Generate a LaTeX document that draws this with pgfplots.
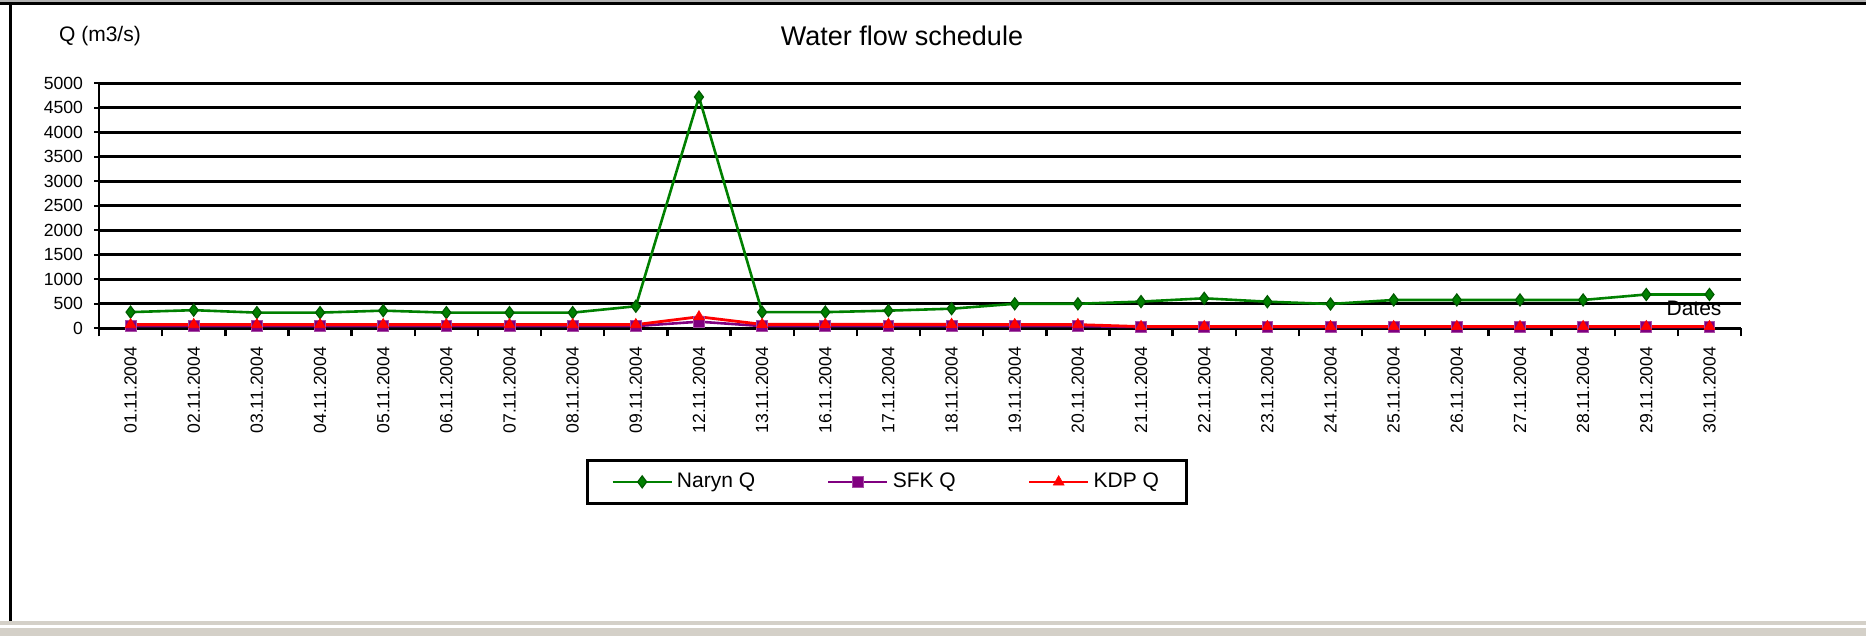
\documentclass[border=0pt]{standalone}
\usepackage{pgfplots}
\pgfplotsset{compat=1.18}
\usepackage{fontspec}
\setmainfont{Liberation Sans}
\definecolor{naryn}{RGB}{0,128,0}
\definecolor{sfk}{RGB}{128,0,128}
\definecolor{kdp}{RGB}{255,0,0}
\definecolor{wingray}{RGB}{212,208,200}
\pgfplotstableread{
x   naryn  sfk  kdp
0.5   330   45   75
1.5   370   45   75
2.5   320   45   75
3.5   320   45   75
4.5   360   45   75
5.5   320   45   75
6.5   320   45   75
7.5   320   45   75
8.5   450   45   75
9.5   4720  135  235
10.5  330   45   80
11.5  330   45   80
12.5  360   45   80
13.5  400   45   80
14.5  500   45   75
15.5  500   45   75
16.5  545   25   35
17.5  612   25   35
18.5  543   25   35
19.5  496   25   35
20.5  578   25   35
21.5  578   25   35
22.5  578   25   35
23.5  578   25   35
24.5  690   25   35
25.5  690   25   35
}\flowdata
\begin{document}
\begin{tikzpicture}
\path[use as bounding box] (0,0) rectangle (933pt,318pt);
% window frame
\fill[gray!60] (0,317pt) rectangle (933pt,318pt);
\fill[black] (0,315.5pt) rectangle (933pt,317pt);
\fill[black] (4.5pt,7.5pt) rectangle (6.2pt,317pt);
\fill[wingray] (0,5.5pt) rectangle (933pt,7.5pt);
\fill[wingray] (0,0) rectangle (933pt,4pt);
% titles
\node[font=\fontsize{13.5}{16}\selectfont] at (451pt,300pt) {Water flow schedule};
\node[font=\fontsize{10.5}{12}\selectfont] at (50pt,300.2pt) {Q (m3/s)};
\begin{axis}[
  at={(49.5pt,153.85pt)}, anchor=south west,
  scale only axis, width=821pt, height=122.5pt,
  xmin=0, xmax=26, ymin=0, ymax=5000,
  axis x line*=bottom, axis y line*=left,
  axis line style={black, line width=1.3pt},
  ytick={0,500,...,5000},
  ymajorgrids, grid style={black, line width=1.3pt},
  xtick={0.5,1.5,...,25.5},
  xticklabels={01.11.2004,02.11.2004,03.11.2004,04.11.2004,05.11.2004,06.11.2004,07.11.2004,08.11.2004,09.11.2004,12.11.2004,13.11.2004,16.11.2004,17.11.2004,18.11.2004,19.11.2004,20.11.2004,21.11.2004,22.11.2004,23.11.2004,24.11.2004,25.11.2004,26.11.2004,27.11.2004,28.11.2004,29.11.2004,30.11.2004},
  minor xtick={0,1,...,26},
  tick align=outside,
  x tick style={draw=none},
  minor x tick style={draw=black, line width=1.2pt},
  minor tick length=4pt,
  y tick style={black, line width=1.2pt},
  major tick length=2.5pt,
  xticklabel style={yshift=-5.5pt, rotate=90, anchor=east, font=\fontsize{8.8}{10}\selectfont, inner sep=1pt},
  yticklabel style={font=\fontsize{8.8}{10}\selectfont, xshift=-2pt},
  /pgf/number format/assume math mode=true,
  scaled y ticks=false,
  /pgf/number format/set thousands separator={},
  legend columns=3,
  legend style={at={(0.48,-0.627)}, anchor=center, draw=black, line width=1.5pt,
    font=\fontsize{10.5}{12}\selectfont, inner xsep=12pt, inner ysep=4.5pt,
    /tikz/every even column/.append style={column sep=34pt}},
  legend image code/.code={\draw[mark repeat=2,mark phase=2] plot coordinates {(0pt,0pt) (14.75pt,0pt) (29.5pt,0pt)};},
  clip=false,
]
\addplot[naryn, line width=1.3pt, mark=diamond*, mark size=3pt, mark options={fill=naryn, draw=naryn!70!black, line width=0.6pt}] table[x=x, y=naryn] {\flowdata};
\addlegendentry{Naryn Q}
\addplot[sfk, line width=1.3pt, mark=square*, mark size=2.7pt, mark options={fill=sfk, draw=sfk!70!white, line width=0.4pt}] table[x=x, y=sfk] {\flowdata};
\addlegendentry{SFK Q}
\addplot[kdp, line width=1.4pt, mark=triangle*, mark size=3.1pt, mark options={fill=kdp, draw=kdp, line width=0.3pt}] table[x=x, y=kdp] {\flowdata};
\addlegendentry{KDP Q}
\end{axis}
\node[font=\fontsize{10.5}{12}\selectfont] at (847pt,164pt) {Dates};
\end{tikzpicture}
\end{document}
